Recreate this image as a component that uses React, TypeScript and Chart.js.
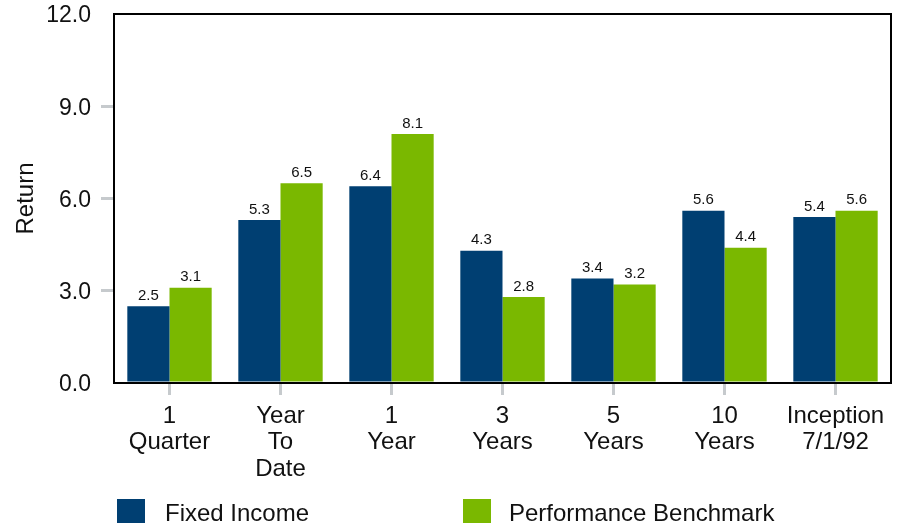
import React, { useEffect, useRef } from "react";
import { Chart, registerables } from "chart.js";

Chart.register(...registerables);

const categories: string[][] = [
  ["1", "Quarter"],
  ["Year", "To", "Date"],
  ["1", "Year"],
  ["3", "Years"],
  ["5", "Years"],
  ["10", "Years"],
  ["Inception", "7/1/92"],
];
const fixedIncome = [2.5, 5.3, 6.4, 4.3, 3.4, 5.6, 5.4];
const benchmark = [3.1, 6.5, 8.1, 2.8, 3.2, 4.4, 5.6];
const seriesNames = ["Fixed Income", "Performance Benchmark"];
const seriesColors = ["#003F72", "#7AB800"];
const yMin = 0;
const yMax = 12;
const yStep = 3;

const FONT = "'Liberation Sans', Arial, Helvetica, sans-serif";
const TICK_GRAY = "#c6cacd";

const frameAndLabels = {
  id: "frameAndLabels",
  afterDatasetsDraw(chart: any) {
    const { ctx, chartArea } = chart;
    ctx.save();
    ctx.font = `15px ${FONT}`;
    ctx.fillStyle = "#111";
    ctx.textAlign = "center";
    ctx.textBaseline = "bottom";
    chart.data.datasets.forEach((ds: any, i: number) => {
      const meta = chart.getDatasetMeta(i);
      meta.data.forEach((bar: any, j: number) => {
        ctx.fillText(Number(ds.data[j]).toFixed(1), bar.x, bar.y - 3);
      });
    });
    ctx.strokeStyle = "#000";
    ctx.lineWidth = 2;
    ctx.strokeRect(
      chartArea.left,
      chartArea.top,
      chartArea.right - chartArea.left,
      chartArea.bottom - chartArea.top
    );
    ctx.restore();
  },
};

export default function App() {
  const ref = useRef<HTMLCanvasElement>(null);

  useEffect(() => {
    if (!ref.current) return;
    const chart = new Chart(ref.current, {
      type: "bar",
      data: {
        labels: categories,
        datasets: [
          {
            label: seriesNames[0],
            data: fixedIncome,
            backgroundColor: seriesColors[0],
            categoryPercentage: 0.76,
            barPercentage: 1.0,
          },
          {
            label: seriesNames[1],
            data: benchmark,
            backgroundColor: seriesColors[1],
            categoryPercentage: 0.76,
            barPercentage: 1.0,
          },
        ],
      },
      options: {
        animation: false,
        responsive: true,
        maintainAspectRatio: false,
        layout: { padding: { top: 14, right: 11, left: 0, bottom: 0 } },
        plugins: {
          legend: { display: false },
          tooltip: { enabled: false },
        },
        scales: {
          x: {
            offset: true,
            grid: {
              offset: false,
              drawOnChartArea: false,
              drawTicks: true,
              tickLength: 12,
              lineWidth: 3,
              color: TICK_GRAY,
            },
            border: { display: false },
            ticks: {
              color: "#111",
              font: { family: FONT, size: 24, lineHeight: 1.1 },
              padding: 8,
              maxRotation: 0,
              autoSkip: false,
            },
            afterFit: (s: any) => {
              s.height = 148;
            },
          },
          y: {
            min: yMin,
            max: yMax,
            grid: {
              drawOnChartArea: false,
              drawTicks: true,
              tickLength: 13,
              lineWidth: 3,
              color: (c: any) =>
                c.tick && (c.tick.value === yMin || c.tick.value === yMax)
                  ? "rgba(0,0,0,0)"
                  : TICK_GRAY,
            },
            border: { display: false },
            ticks: {
              stepSize: yStep,
              color: "#111",
              font: { family: FONT, size: 23, lineHeight: 0.05 },
              padding: 10,
              labelOffset: 2,
              callback: (v: any) => Number(v).toFixed(1),
            },
            title: {
              display: true,
              text: "Return",
              color: "#111",
              font: { family: FONT, size: 24 },
              padding: { top: 12, bottom: 0 },
            },
            afterFit: (s: any) => {
              s.width = 114;
            },
          },
        },
      },
      plugins: [frameAndLabels],
    });
    return () => chart.destroy();
  }, []);

  const legendItems = [
    { box: 117, text: 165 },
    { box: 463, text: 509 },
  ];

  return (
    <div
      style={{
        position: "absolute",
        left: 0,
        top: 0,
        width: 902,
        height: 531,
        background: "#fff",
        fontFamily: FONT,
      }}
    >
      <canvas ref={ref} />
      {seriesNames.map((name, i) => (
        <React.Fragment key={name}>
          <div
            style={{
              position: "absolute",
              left: legendItems[i].box,
              top: 499,
              width: 28,
              height: 24,
              background: seriesColors[i],
            }}
          />
          <div
            style={{
              position: "absolute",
              left: legendItems[i].text,
              top: 500,
              height: 26,
              lineHeight: "26px",
              fontSize: 24,
              color: "#111",
              whiteSpace: "nowrap",
            }}
          >
            {name}
          </div>
        </React.Fragment>
      ))}
    </div>
  );
}
